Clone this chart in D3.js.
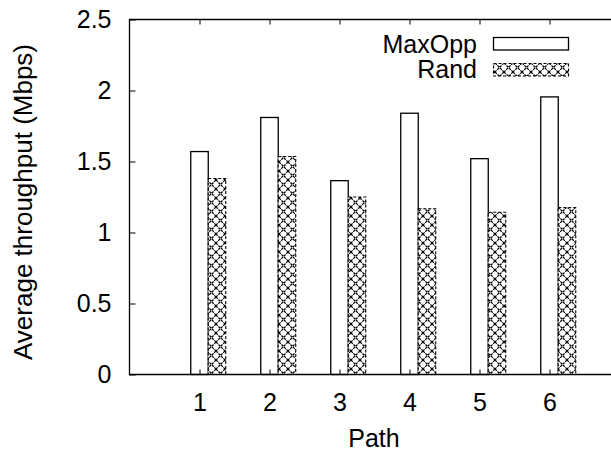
<!DOCTYPE html>
<html>
<head>
<meta charset="utf-8" />
<title>Average throughput per path</title>
<script src="https://cdn.jsdelivr.net/npm/d3@7/dist/d3.min.js"></script>
<style>
  body { margin: 0; background: #fff; }
  svg text { font-family: "Liberation Sans", Arial, Helvetica, sans-serif; fill: #000; }
</style>
</head>
<body>
<div id="chart"></div>
<script>
// data
var categories = [1, 2, 3, 4, 5, 6];
var maxOpp = [1.57, 1.81, 1.365, 1.84, 1.52, 1.955];
var rand = [1.38, 1.535, 1.25, 1.167, 1.143, 1.175];
var yTicks = [0, 0.5, 1, 1.5, 2, 2.5];
var seriesNames = ['MaxOpp', 'Rand'];

var W = 611, H = 451;
// plot box (no "top" name: window.top is read-only)
var plotLeft = 129.5, plotTop = 19.5, plotBottom = 374.5;
var fs = 25;

var svg = d3.select('#chart').append('svg')
  .attr('width', W).attr('height', H);

// crosshatch pattern for Rand, dotted like gnuplot's
var defs = svg.append('defs');
var pat = defs.append('pattern')
  .attr('id', 'xhatch')
  .attr('patternUnits', 'userSpaceOnUse')
  .attr('width', 9).attr('height', 9);
pat.append('rect').attr('width', 9).attr('height', 9).attr('fill', '#fff');
pat.append('path')
  .attr('d', 'M0,0L9,9M9,0L0,9')
  .attr('stroke', '#000')
  .attr('stroke-width', 1.2)
  .attr('stroke-dasharray', '2.5,1');

var x = d3.scaleLinear().domain([0, 7]).range([plotLeft, plotLeft + 490]);
var y = d3.scaleLinear().domain([0, 2.5]).range([plotBottom, plotTop]);
var bw = x(0.25) - x(0);

// bars
var g = svg.append('g');
g.selectAll('rect.maxopp')
  .data(categories)
  .enter().append('rect')
  .attr('class', 'maxopp')
  .attr('x', function (d) { return x(d - 0.125); })
  .attr('y', function (d, i) { return y(maxOpp[i]); })
  .attr('width', bw)
  .attr('height', function (d, i) { return y(0) - y(maxOpp[i]); })
  .attr('fill', '#fff')
  .attr('stroke', '#000')
  .attr('stroke-width', 1.3);

g.selectAll('rect.rand')
  .data(categories)
  .enter().append('rect')
  .attr('class', 'rand')
  .attr('x', function (d) { return x(d + 0.125); })
  .attr('y', function (d, i) { return y(rand[i]); })
  .attr('width', bw)
  .attr('height', function (d, i) { return y(0) - y(rand[i]); })
  .attr('fill', 'url(#xhatch)')
  .attr('stroke', '#000')
  .attr('stroke-width', 1.1)
  .attr('stroke-dasharray', '3,2');

// axes
var yAxis = d3.axisLeft(y)
  .tickValues(yTicks)
  .tickFormat(function (d) { return String(d); })
  .tickSize(-6)
  .tickPadding(18);
var ya = svg.append('g').attr('transform', 'translate(' + plotLeft + ',0)').call(yAxis);
ya.select('.domain').remove();
ya.selectAll('text').attr('font-size', fs).attr('font-family', null);

var xAxis = d3.axisBottom(x)
  .tickValues(categories)
  .tickFormat(function (d) { return String(d); })
  .tickSize(-5)
  .tickPadding(19);
var xa = svg.append('g').attr('transform', 'translate(0,' + plotBottom + ')').call(xAxis);
xa.select('.domain').remove();
xa.selectAll('text').attr('font-size', fs).attr('font-family', null);

var xTop = d3.axisTop(x)
  .tickValues(categories)
  .tickFormat('')
  .tickSize(-5);
var xt = svg.append('g').attr('transform', 'translate(0,' + plotTop + ')').call(xTop);
xt.select('.domain').remove();

// frame: left, bottom, top
svg.append('path')
  .attr('d', 'M' + (W + 5) + ',' + plotTop + 'H' + plotLeft + 'V' + plotBottom + 'H' + (W + 5))
  .attr('fill', 'none')
  .attr('stroke', '#000')
  .attr('stroke-width', 1.3);

// axis titles
svg.append('text')
  .attr('x', 374)
  .attr('y', 447)
  .attr('text-anchor', 'middle')
  .attr('font-size', fs)
  .text('Path');

svg.append('text')
  .attr('transform', 'translate(32,202) rotate(-90)')
  .attr('text-anchor', 'middle')
  .attr('font-size', 26)
  .text('Average throughput (Mbps)');

// legend
var legend = svg.append('g');
var legY = [52.5, 78];
legend.selectAll('text')
  .data(seriesNames)
  .enter().append('text')
  .attr('x', 477)
  .attr('y', function (d, i) { return legY[i]; })
  .attr('text-anchor', 'end')
  .attr('font-size', fs)
  .text(function (d) { return d; });

legend.append('rect')
  .attr('x', 493.5).attr('y', 37.5).attr('width', 75).attr('height', 12.5)
  .attr('fill', '#fff').attr('stroke', '#000').attr('stroke-width', 1.3);
legend.append('rect')
  .attr('x', 493.5).attr('y', 63.5).attr('width', 75).attr('height', 12.5)
  .attr('fill', 'url(#xhatch)').attr('stroke', '#000').attr('stroke-width', 1.1)
  .attr('stroke-dasharray', '3,2');
</script>
</body>
</html>
